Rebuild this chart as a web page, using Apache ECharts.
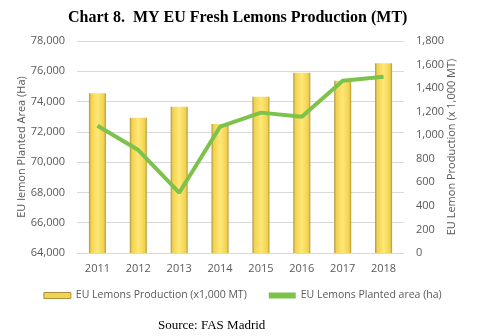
<!DOCTYPE html>
<html><head><meta charset="utf-8">
<script src="https://cdn.jsdelivr.net/npm/echarts@6/dist/echarts.min.js"></script>
<style>html,body{margin:0;padding:0;background:#fff}#c{width:485px;height:336px}</style>
</head><body><div id="c"></div>
<script>
const categories = ['2011','2012','2013','2014','2015','2016','2017','2018'];
const production = [1356, 1149, 1242, 1095, 1327, 1531, 1463, 1611];
const plantedArea = [72400, 70800, 67980, 72340, 73270, 73000, 75380, 75640];
const leftTicks = {min: 64000, max: 78000, interval: 2000};
const rightTicks = {min: 0, max: 1800, interval: 200};

const chart = echarts.init(document.getElementById('c'), null, {renderer: 'canvas'});
const barGrad = new echarts.graphic.LinearGradient(0, 0, 1, 0, [
  {offset: 0, color: '#a89040'},
  {offset: 0.12, color: '#f2d24e'},
  {offset: 0.5, color: '#ffe878'},
  {offset: 0.88, color: '#f2d24e'},
  {offset: 1, color: '#b09838'}
]);
const axisLabel = {color: '#595959', fontSize: 11, fontFamily: 'Open Sans'};
chart.setOption({
  animation: false,
  title: [
    {text: 'Chart 8.  MY EU Fresh Lemons Production (MT)', left: 63, top: 5,
     textStyle: {fontFamily: 'Liberation Serif', fontWeight: 'bold', fontSize: 16, color: '#000'}},
    {text: 'Source: FAS Madrid', left: 153, top: 314,
     textStyle: {fontFamily: 'Liberation Serif', fontWeight: 'normal', fontSize: 13, color: '#000'}}
  ],
  grid: {left: 77, right: 81, top: 41, bottom: 83},
  legend: {
    bottom: 30, left: 'center', itemGap: 22, itemWidth: 27, itemHeight: 6,
    textStyle: {color: '#595959', fontSize: 10.5, fontFamily: 'Open Sans'},
    data: [
      {name: 'EU Lemons Production (x1,000 MT)', icon: 'rect',
       itemStyle: {color: '#f2d24e', borderColor: '#a89040', borderWidth: 1}},
      {name: 'EU Lemons Planted area (ha)', icon: 'rect', itemStyle: {color: '#7dc24b'}}
    ]
  },
  xAxis: {
    type: 'category', data: categories,
    axisLine: {show: true, lineStyle: {color: '#d9d9d9'}},
    axisTick: {show: false},
    axisLabel: Object.assign({margin: 10}, axisLabel)
  },
  yAxis: [
    {type: 'value', position: 'left', min: leftTicks.min, max: leftTicks.max, interval: leftTicks.interval,
     name: 'EU lemon Planted Area (Ha)', nameLocation: 'middle', nameGap: 50, nameRotate: 90,
     nameMoveOverlap: false,
     nameTextStyle: {color: '#595959', fontSize: 11, fontFamily: 'Open Sans'},
     axisLabel: Object.assign({formatter: v => v.toLocaleString('en-US'), margin: 12}, axisLabel),
     axisLine: {show: false}, axisTick: {show: false},
     splitLine: {lineStyle: {color: '#d9d9d9'}}},
    {type: 'value', position: 'right', min: rightTicks.min, max: rightTicks.max, interval: rightTicks.interval,
     name: 'EU Lemon Production (x 1,000 MT)', nameLocation: 'middle', nameGap: 42, nameRotate: 90,
     nameMoveOverlap: false,
     nameTextStyle: {color: '#595959', fontSize: 11, fontFamily: 'Open Sans'},
     axisLabel: Object.assign({formatter: v => v.toLocaleString('en-US'), margin: 12}, axisLabel),
     axisLine: {show: false}, axisTick: {show: false},
     splitLine: {show: false}}
  ],
  series: [
    {name: 'EU Lemons Production (x1,000 MT)', type: 'bar', yAxisIndex: 1, data: production,
     barWidth: 17, itemStyle: {color: barGrad}},
    {name: 'EU Lemons Planted area (ha)', type: 'line', yAxisIndex: 0, data: plantedArea,
     symbol: 'none', lineStyle: {color: '#7dc24b', width: 4}, itemStyle: {color: '#7dc24b'}}
  ]
});
</script></body></html>
